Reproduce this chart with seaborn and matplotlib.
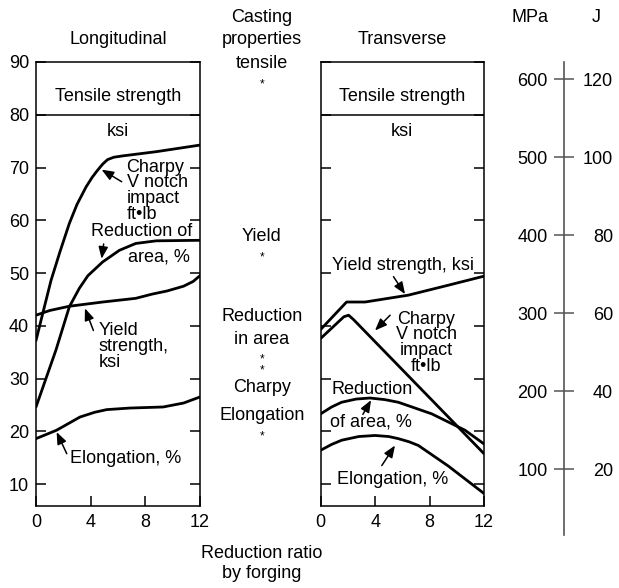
import seaborn as sns
import numpy as np
import pandas as pd
import matplotlib.pyplot as plt

sns.set_style("white")
plt.rcParams['font.family'] = ['Liberation Sans', 'DejaVu Sans']
plt.rcParams['font.size'] = 13
plt.rcParams['text.color'] = 'black'
plt.rcParams['xtick.color'] = 'black'
plt.rcParams['ytick.color'] = 'black'

# Longitudinal panel curves (reduction ratio vs value)
long_charpy_x = [0, 0.49, 1.1, 1.75, 2.44, 3.0, 3.66, 4.1, 4.51, 4.9, 5.24, 5.7, 6.34, 8.8, 12]
long_charpy_y = [37.2, 42.3, 48.6, 54.0, 59.4, 63.0, 66.3, 68.1, 69.5, 70.7, 71.5, 71.95, 72.2, 73.0, 74.25]
long_roa_x = [0, 1.46, 2.44, 3.17, 3.8, 4.88, 6.1, 7.3, 8.8, 12]
long_roa_y = [24.6, 35.4, 43.6, 47.1, 49.5, 52.1, 54.3, 55.6, 56.1, 56.2]
long_yield_x = [0, 1.02, 2.44, 4.88, 7.3, 8.5, 9.6, 10.8, 11.5, 12]
long_yield_y = [42.0, 42.9, 43.7, 44.5, 45.2, 46.0, 46.6, 47.5, 48.4, 49.5]
long_elong_x = [0, 1.51, 3.22, 4.3, 5.17, 6.88, 9.3, 10.8, 12]
long_elong_y = [18.6, 20.2, 22.7, 23.6, 24.1, 24.4, 24.6, 25.35, 26.5]

# Transverse panel curves
tr_yield_x = [0, 1.9, 3.26, 6.44, 9.4, 12]
tr_yield_y = [39.3, 44.5, 44.5, 45.8, 47.7, 49.4]
tr_charpy_x = [0, 1.7, 2.05, 2.4, 12]
tr_charpy_y = [37.6, 41.7, 42.0, 41.2, 15.75]
tr_roa_x = [0, 0.8, 1.54, 2.6, 3.62, 4.7, 5.7, 8.16, 10.6, 12]
tr_roa_y = [23.3, 24.6, 25.5, 26.1, 26.3, 26.0, 25.5, 23.3, 20.2, 17.6]
tr_elong_x = [0, 0.8, 1.54, 2.8, 4.0, 5.0, 5.7, 6.5, 7.18, 9.38, 12]
tr_elong_y = [16.4, 17.5, 18.3, 19.0, 19.2, 19.0, 18.6, 18.0, 17.3, 13.4, 8.2]

x_ticks = [0, 4, 8, 12]
ksi_ticks = [10, 20, 30, 40, 50, 60, 70, 80, 90]
mpa_ticks = [100, 200, 300, 400, 500, 600]
j_ticks = [20, 40, 60, 80, 100, 120]

W, H = 619, 588
fig = plt.figure(figsize=(W / 100, H / 100), dpi=100)


def fx(px):
    return px / W


def fy(py):
    return 1 - py / H


ax_l = fig.add_axes([fx(36), fy(506), 164 / W, 444 / H])
ax_r = fig.add_axes([fx(320.7), fy(506), 163.3 / W, 444 / H])

curve_kw = dict(color='black', linewidth=2.0, estimator=None, sort=False)
for xs, ys in [(long_charpy_x, long_charpy_y), (long_roa_x, long_roa_y),
               (long_yield_x, long_yield_y), (long_elong_x, long_elong_y)]:
    sns.lineplot(x=xs, y=ys, ax=ax_l, **curve_kw)
for xs, ys in [(tr_yield_x, tr_yield_y), (tr_charpy_x, tr_charpy_y),
               (tr_roa_x, tr_roa_y), (tr_elong_x, tr_elong_y)]:
    sns.lineplot(x=xs, y=ys, ax=ax_r, **curve_kw)

for ax, title in [(ax_l, "Longitudinal"), (ax_r, "Transverse")]:
    ax.set_xlim(0, 12)
    ax.set_ylim(5.83, 90)
    ax.set_xticks(x_ticks)
    ax.set_yticks(ksi_ticks)
    ax.set_xlabel("")
    ax.set_ylabel("")
    for s in ax.spines.values():
        s.set_color('black')
        s.set_linewidth(1.1)
    ax.tick_params(axis='x', direction='in', length=7.2, width=1.1, bottom=True,
                   top=False, pad=6, labelsize=13)
    ax.tick_params(axis='y', direction='in', length=7.2, width=1.1, left=True,
                   right=True, pad=5, labelsize=13)
    ax.axhline(80, color='black', linewidth=1.1)
    ax.text(6, 83.4, "Tensile strength", ha='center', va='center')
    ax.text(6, 76.8, "ksi", ha='center', va='center')
    ax.text(0.5, 1 + 22 / 444, title, transform=ax.transAxes, ha='center',
            va='center')
ax_r.tick_params(axis='y', labelleft=False)

arrow_kw = dict(arrowstyle='-|>,head_length=0.55,head_width=0.22', color='black',
                lw=1.1, shrinkA=0, shrinkB=0)

# Longitudinal annotations
ax_l.text(6.63, 65.6, "Charpy\nV notch\nimpact\nft•lb", ha='left', va='center',
          linespacing=0.9)
ax_l.annotate("", xy=(4.8, 69.6), xytext=(6.27, 67.3), arrowprops=arrow_kw)
ax_l.text(4.0, 57.9, "Reduction of", ha='left', va='center')
ax_l.text(6.73, 53.0, "area, %", ha='left', va='center')
ax_l.annotate("", xy=(4.8, 52.7), xytext=(4.95, 55.5), arrowprops=arrow_kw)
ax_l.text(4.56, 36.1, "Yield\nstrength,\nksi", ha='left', va='center',
          linespacing=0.9)
ax_l.annotate("", xy=(3.58, 43.3), xytext=(4.2, 39.1), arrowprops=arrow_kw)
ax_l.text(2.49, 14.9, "Elongation, %", ha='left', va='center')
ax_l.annotate("", xy=(1.51, 19.85), xytext=(2.25, 15.75), arrowprops=arrow_kw)

# Transverse annotations
ax_r.text(6.05, 51.5, "Yield strength, ksi", ha='center', va='center')
ax_r.annotate("", xy=(6.2, 46.0), xytext=(5.35, 49.3), arrowprops=arrow_kw)
ax_r.text(7.75, 36.8, "Charpy\nV notch\nimpact\nft•lb", ha='center', va='center',
          linespacing=0.9)
ax_r.annotate("", xy=(3.99, 39.1), xytext=(5.1, 42.0), arrowprops=arrow_kw)
ax_r.text(0.81, 27.9, "Reduction", ha='left', va='center')
ax_r.text(0.68, 21.7, "of area, %", ha='left', va='center')
ax_r.annotate("", xy=(3.7, 25.9), xytext=(3.1, 23.2), arrowprops=arrow_kw)
ax_r.text(1.22, 10.9, "Elongation, %", ha='left', va='center')
ax_r.annotate("", xy=(5.46, 17.3), xytext=(4.49, 13.5), arrowprops=arrow_kw)

# Middle column of casting property labels
mid = [("Casting", 17.3), ("properties", 40), ("tensile", 63.3),
       ("Yield", 236.7), ("Reduction", 316.7), ("in area", 340),
       ("Charpy", 387), ("Elongation", 415),
       ("Reduction ratio", 553.3), ("by forging", 573.3)]
for label, py in mid:
    fig.text(fx(261.7), fy(py), label, ha='center', va='center')
for py in [84, 257.5, 359, 370.5, 436]:
    fig.text(fx(261.7), fy(py), "*", ha='center', va='center', fontsize=8.5)

# MPa / J conversion scale
mpa_lo, mpa_hi = 15.4, 621.8
ax_m = fig.add_axes([fx(564), fy(535), 0.0001, 473 / H])
ax_m.set_facecolor('none')
ax_m.set_ylim(mpa_lo, mpa_hi)
ax_m.set_xticks([])
ax_m.set_yticks(mpa_ticks)
for side in ['top', 'bottom', 'right']:
    ax_m.spines[side].set_visible(False)
ax_m.spines['left'].set_color('#555555')
ax_m.spines['left'].set_linewidth(1.2)
ax_m.tick_params(axis='y', direction='inout', length=13.7, width=1.1,
                 color='#555555', left=True, right=False, pad=5.0, labelsize=13)

ax_j = ax_m.twinx()
ax_j.set_facecolor('none')
ax_j.set_ylim(mpa_lo / 5, mpa_hi / 5)
ax_j.set_yticks(j_ticks)
ax_j.set_yticklabels([str(v) for v in j_ticks])
for s in ax_j.spines.values():
    s.set_visible(False)
ax_j.tick_params(axis='y', length=0, pad=35.3, labelsize=13)
for lbl in ax_j.get_yticklabels():
    lbl.set_ha('right')

fig.text(fx(530), fy(17.3), "MPa", ha='center', va='center')
fig.text(fx(596), fy(17.3), "J", ha='center', va='center')

fig.savefig("out.png", dpi=100)
